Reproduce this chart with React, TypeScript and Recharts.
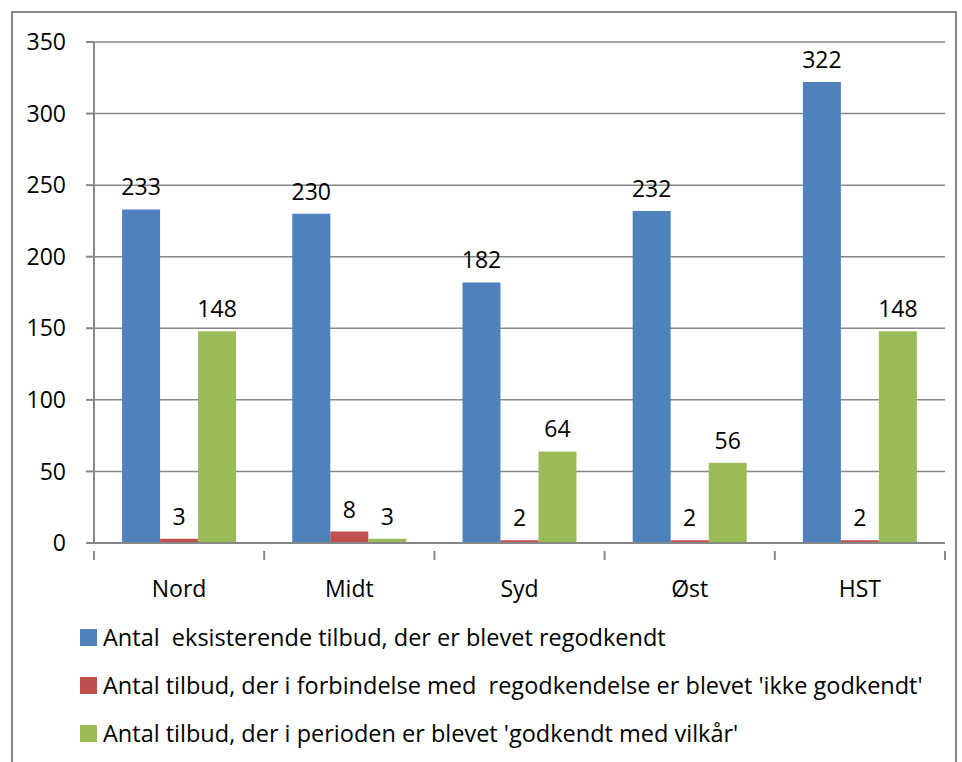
import { BarChart, Bar, XAxis, YAxis, CartesianGrid, LabelList } from 'recharts'

const regioner = ['Nord', 'Midt', 'Syd', 'Øst', 'HST']
const regodkendt = [233, 230, 182, 232, 322]
const ikkeGodkendt = [3, 8, 2, 2, 2]
const medVilkaar = [148, 3, 64, 56, 148]
const yTicks = [0, 50, 100, 150, 200, 250, 300, 350]

const serier = [
  { key: 'regodkendt', navn: 'Antal  eksisterende tilbud, der er blevet regodkendt', farve: '#4F81BD' },
  { key: 'ikkeGodkendt', navn: "Antal tilbud, der i forbindelse med  regodkendelse er blevet 'ikke godkendt'", farve: '#C0504D' },
  { key: 'medVilkaar', navn: "Antal tilbud, der i perioden er blevet 'godkendt med vilkår'", farve: '#9BBB59' },
]

const data = regioner.map((region, i) => ({
  region,
  regodkendt: regodkendt[i],
  ikkeGodkendt: ikkeGodkendt[i],
  medVilkaar: medVilkaar[i],
}))

const W = 962
const H = 762
const FONT = '"Open Sans", Lato, sans-serif'
const GRAA = '#878787'
const plotLeft = 94
const plotRight = 17
const band = (W - plotLeft - plotRight) / regioner.length

function KategoriTick(props: any) {
  const { x, y, payload, index } = props
  const last = index === regioner.length - 1
  return (
    <g>
      <line x1={x - band / 2} y1={y} x2={x - band / 2} y2={y + 9} stroke={GRAA} strokeWidth={2} />
      {last && <line x1={x + band / 2} y1={y} x2={x + band / 2} y2={y + 9} stroke={GRAA} strokeWidth={2} />}
      <text x={x} y={y + 46} textAnchor="middle" fontSize={23} fontFamily={FONT} fill="#000">
        {payload.value}
      </text>
    </g>
  )
}

export default function App() {
  return (
    <div style={{ position: 'relative', width: W, height: H, background: '#fff', fontFamily: FONT }}>
      <style>{`body{margin:0}`}</style>
      <div
        style={{
          position: 'absolute',
          left: 11,
          top: 11,
          width: 946,
          height: 760,
          border: `2px solid ${GRAA}`,
          boxSizing: 'border-box',
        }}
      />
      <div style={{ position: 'absolute', left: 0, top: 0 }}>
        <BarChart
          width={W}
          height={H}
          data={data}
          margin={{ top: 42, right: plotRight, bottom: 169, left: 0 }}
          barCategoryGap="16.5%"
          barGap={0}
        >
          <CartesianGrid vertical={false} stroke={GRAA} strokeWidth={1.5} />
          <XAxis
            dataKey="region"
            tickLine={false}
            axisLine={{ stroke: GRAA, strokeWidth: 2 }}
            tick={<KategoriTick />}
            height={50}
            interval={0}
          />
          <YAxis
            domain={[0, 350]}
            ticks={yTicks}
            width={plotLeft}
            tickSize={8}
            tickMargin={20}
            axisLine={{ stroke: GRAA, strokeWidth: 2 }}
            tickLine={{ stroke: GRAA, strokeWidth: 2 }}
            tick={{ fontSize: 23, fontFamily: FONT, fill: '#000' }}
            interval={0}
          />
          {serier.map((s) => (
            <Bar key={s.key} dataKey={s.key} fill={s.farve} isAnimationActive={false}>
              <LabelList
                dataKey={s.key}
                position="top"
                offset={14}
                fontSize={23}
                fontFamily={FONT}
                fill="#000"
              />
            </Bar>
          ))}
        </BarChart>
      </div>
      <div style={{ position: 'absolute', left: 80, top: 613 }}>
        {serier.map((s) => (
          <div key={s.key} style={{ display: 'flex', alignItems: 'center', height: 48 }}>
            <div style={{ width: 17, height: 17, background: s.farve, marginRight: 6 }} />
            <span style={{ fontSize: 23.5, whiteSpace: 'pre', color: '#000' }}>{s.navn}</span>
          </div>
        ))}
      </div>
    </div>
  )
}
